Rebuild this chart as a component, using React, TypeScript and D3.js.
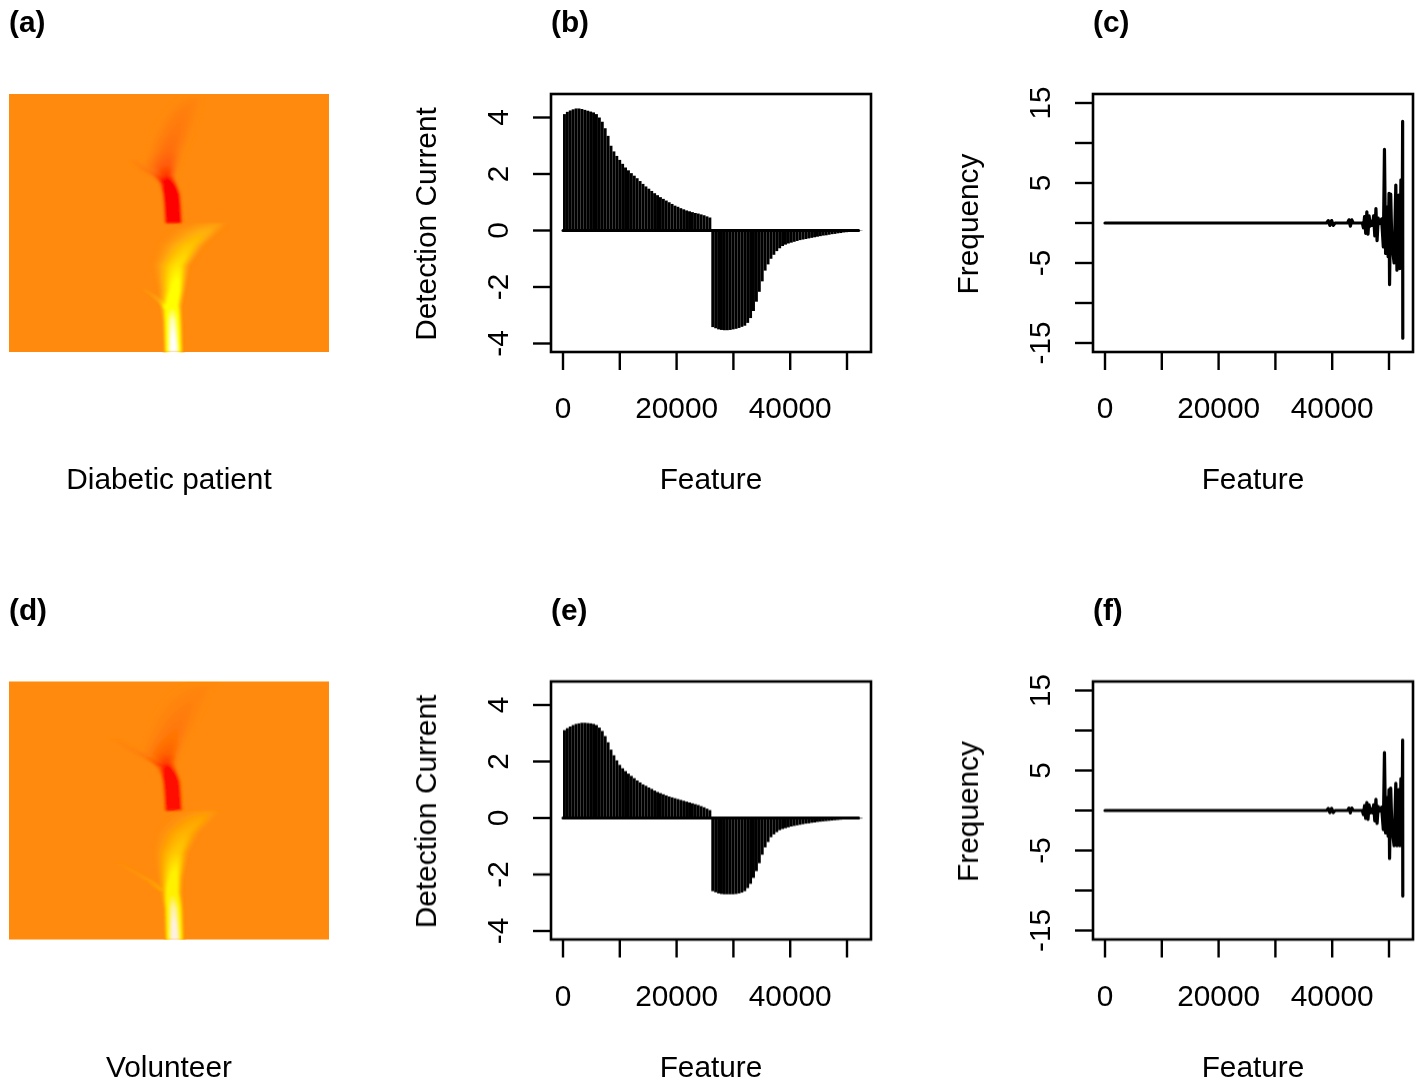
import React, { useEffect, useRef } from "react";
import * as d3 from "d3";

const font = "'Liberation Sans', Arial, sans-serif";
const fontSize = 29.8;

// detection current, one value every 512 features
const binSize = 512;
const lastFeature = 52050;
const currentPatient = [
  4.12, 4.2, 4.25, 4.29, 4.32, 4.32, 4.3, 4.27, 4.24, 4.21, 4.18, 4.12, 4.0, 3.85, 3.62, 3.35, 3.0,
  2.8, 2.64, 2.5, 2.36, 2.23, 2.13, 2.03, 1.94, 1.85, 1.75, 1.65, 1.56, 1.48, 1.4, 1.32, 1.25, 1.18,
  1.12, 1.06, 1.0, 0.94, 0.88, 0.84, 0.79, 0.75, 0.71, 0.68, 0.65, 0.62, 0.6, 0.57, 0.54, 0.5, 0.46,
  -3.42, -3.46, -3.5, -3.52, -3.53, -3.53, -3.52, -3.5, -3.48, -3.45, -3.41, -3.37, -3.27, -3.1,
  -2.85, -2.52, -2.17, -1.8, -1.42, -1.2, -1.0, -0.86, -0.73, -0.63, -0.55, -0.5, -0.46, -0.43, -0.4,
  -0.37, -0.34, -0.32, -0.3, -0.28, -0.26, -0.24, -0.22, -0.2, -0.18, -0.17, -0.15, -0.13, -0.12,
  -0.1, -0.09, -0.07, -0.06, -0.05, -0.04, -0.03, -0.02, -0.01,
];
const currentVolunteer = [
  3.11, 3.18, 3.24, 3.29, 3.33, 3.35, 3.37, 3.37, 3.36, 3.35, 3.33, 3.29, 3.2, 3.08, 2.9, 2.68, 2.42,
  2.22, 2.04, 1.88, 1.76, 1.66, 1.57, 1.49, 1.41, 1.33, 1.26, 1.19, 1.14, 1.08, 1.03, 0.97, 0.92,
  0.88, 0.84, 0.8, 0.76, 0.73, 0.7, 0.67, 0.64, 0.61, 0.58, 0.55, 0.52, 0.49, 0.46, 0.42, 0.38, 0.33, 0.28,
  -2.59, -2.63, -2.67, -2.69, -2.7, -2.7, -2.7, -2.7, -2.69, -2.67, -2.64, -2.59, -2.48, -2.33,
  -2.12, -1.88, -1.6, -1.3, -1.04, -0.85, -0.68, -0.58, -0.5, -0.43, -0.39, -0.36, -0.33, -0.3, -0.28,
  -0.26, -0.24, -0.22, -0.2, -0.19, -0.17, -0.16, -0.14, -0.13, -0.12, -0.11, -0.1, -0.09, -0.08,
  -0.07, -0.06, -0.05, -0.04, -0.04, -0.03, -0.03, -0.02, -0.02,
];

// frequency traces
const freqFeature = [
  0, 39000, 39300, 39600, 39900, 40200, 40500, 42700, 42950, 43200, 43450, 43700, 45300, 45500, 45700,
  45900, 46100, 46300, 46500, 46700, 46900, 47100, 47300, 47500, 47700, 47900, 48100, 48300, 48700,
  49000, 49200, 49400, 49650, 49850, 50000, 50100, 50300, 50500, 50900, 51200, 51400, 51700, 51900,
  52100, 52300, 52400, 52428,
];
const freqPatient = [
  0, 0, 0.3, -0.3, 0.3, -0.3, 0, 0, 0.4, -0.4, 0.4, 0, 0, -0.6, 0.8, -1.3, 1.4, -1.4, 0.9, -0.4, 0.2,
  -0.3, 0.9, -1.6, 1.8, -2.2, 0.6, -0.1, 0.5, -3, 9.2, -3.8, 2, -4.2, 3.7, -7.7, 3.6, -2.5, -5, 4.75,
  -5.9, 3.5, -5.7, 5.4, -5.6, 12.7, -14.4,
];
const freqVolunteer = [
  0, 0, 0.25, -0.25, 0.25, -0.25, 0, 0, 0.3, -0.3, 0.3, 0, 0, -0.5, 0.6, -1.0, 1.0, -1.1, 0.7, -0.3, 0.2,
  -0.3, 0.7, -1.3, 1.4, -1.6, 0.5, -0.1, 0.4, -2.4, 7.25, -2.8, 1.6, -3.2, 2.6, -6, 2.8, -2, -4.4, 3.4,
  -4.4, 2.6, -4.4, 4, -4.2, 8.8, -10.7,
];

const xTicks = [0, 10000, 20000, 30000, 40000, 50000];
const xLabels = [0, 20000, 40000];
const currentTicks = [-4, -2, 0, 2, 4];
const freqTicks = [-15, -10, -5, 0, 5, 10, 15];
const freqLabels = [-15, -5, 5, 15];

// scalogram ridges, read per row: [row, centre, left width, right width, level]
type Ridge = number[][];
const patientUpper: Ridge = [
  [0, 188, 18, 8, 0], [8, 182, 20, 12, -0.05], [19, 174, 22, 18, -0.09], [36, 167, 25, 20, -0.13],
  [56, 160, 25, 18, -0.2], [71, 158, 28, 14, -0.35], [81, 157, 16, 11, -0.6], [86, 158, 12, 11, -1],
  [92, 160, 11, 10.5, -2], [100, 162, 10.5, 10.5, -4], [111, 163, 10.5, 10.5, -4], [129, 164, 10.5, 10.5, -4],
];
const patientUpperWing: Ridge = [
  [66, 124, 7, 7, -0.03], [74, 134, 8, 8, -0.08], [81, 146, 7, 7, -0.18], [88, 153, 5, 5, -0.25],
];
const patientLower: Ridge = [
  [129, 207, 35, 14, 0.14], [136, 198, 40, 16, 0.3], [151, 181, 35, 16, 0.5], [171, 169, 28, 13, 0.75],
  [196, 167, 20, 10, 1.2], [211, 163, 14, 11, 1.6], [226, 163, 11, 11, 2.8], [258, 164, 10.5, 10.5, 3.8],
];
const patientLowerWing: Ridge = [
  [195, 134, 5, 5, 0.06], [201, 144, 5, 5, 0.14], [207, 151, 5, 5, 0.28], [214, 156, 4, 4, 0.4],
];
const volunteerUpper: Ridge = [
  [0, 205, 28, 8, 0], [8, 192, 30, 12, -0.04], [19, 182, 32, 18, -0.07], [36, 172, 32, 20, -0.11],
  [56, 163, 30, 18, -0.18], [71, 159, 30, 14, -0.32], [81, 157, 18, 12, -0.6], [86, 158, 13, 11, -1],
  [92, 160, 11, 10.5, -2], [100, 162, 10.5, 10.5, -4], [111, 163, 10.5, 10.5, -4], [129, 164, 10.5, 10.5, -4],
];
const volunteerUpperWing: Ridge = [
  [58, 106, 8, 8, -0.02], [68, 124, 9, 9, -0.06], [76, 138, 8, 8, -0.14], [84, 150, 6, 6, -0.22],
];
const volunteerLower: Ridge = [
  [129, 200, 32, 14, 0.1], [136, 192, 36, 16, 0.24], [151, 177, 32, 15, 0.4], [171, 168, 26, 13, 0.62],
  [196, 165, 18, 10, 1.15], [211, 163, 13, 11, 1.6], [226, 164, 11, 11, 2.8], [258, 165, 10.5, 10.5, 3.8],
];
const volunteerLowerWing: Ridge = [
  [182, 110, 6, 6, 0.03], [192, 128, 6, 6, 0.1], [200, 142, 5, 5, 0.2], [208, 151, 4, 4, 0.35],
];

const panels = [
  {
    top: 94, letters: ["(a)", "(b)", "(c)"], title: "Diabetic patient", current: currentPatient, freq: freqPatient,
    upper: patientUpper, upperWing: patientUpperWing, lower: patientLower, lowerWing: patientLowerWing,
  },
  {
    top: 681.5, letters: ["(d)", "(e)", "(f)"], title: "Volunteer", current: currentVolunteer, freq: freqVolunteer,
    upper: volunteerUpper, upperWing: volunteerUpperWing, lower: volunteerLower, lowerWing: volunteerLowerWing,
  },
];

const plotW = 320;
const plotH = 258;
const heatColor = d3
  .scaleLinear<string>()
  .domain([-1, 0, 1, 1.7, 3.2])
  .range(["#ff0000", "#ff8a0a", "#ffff00", "#ffff00", "#ffffff"])
  .clamp(true);

function ridgeAt(ridge: Ridge, row: number, col: number) {
  const rows = ridge.map((r) => r[0]);
  if (row < rows[0] || row > rows[rows.length - 1]) return 0;
  const read = (k: number) => d3.scaleLinear().domain(rows).range(ridge.map((r) => r[k]))(row);
  const d = col - read(1);
  const u = Math.abs(d) / (d < 0 ? read(2) : read(3));
  if (u >= 1) return 0;
  return read(4) * Math.cos((u * Math.PI) / 2) ** 2;
}

function drawHeat(g: any, p: any) {
  g.append("rect").attr("width", plotW).attr("height", plotH).attr("fill", heatColor(0));
  const cells: { col: number; row: number; v: number }[] = [];
  d3.range(90, 240).forEach((col) => {
    d3.range(0, plotH).forEach((row) => {
      const v =
        row < 129
          ? ridgeAt(p.upper, row, col) + ridgeAt(p.upperWing, row, col)
          : ridgeAt(p.lower, row, col) + ridgeAt(p.lowerWing, row, col);
      if (v !== 0) cells.push({ col, row, v });
    });
  });
  g.append("g")
    .attr("filter", "url(#soft)")
    .selectAll("rect")
    .data(cells)
    .enter()
    .append("rect")
    .attr("x", (d: any) => d.col)
    .attr("y", (d: any) => d.row)
    .attr("width", 1.2)
    .attr("height", 1.2)
    .attr("fill", (d: any) => heatColor(d.v));
}

function frame(g: any, x: any, y: any, yTicks: number[], yLabels: number[], yTitle: string) {
  g.append("rect")
    .attr("width", plotW)
    .attr("height", plotH)
    .attr("fill", "none")
    .attr("stroke", "#000")
    .attr("stroke-width", 2.6);

  const bottom = g
    .append("g")
    .attr("transform", `translate(0,${plotH})`)
    .call(
      d3.axisBottom(x).tickValues(xTicks).tickSize(18).tickSizeOuter(0).offset(0)
        .tickFormat((d: any) => (xLabels.includes(d) ? String(d) : "")),
    );
  const left = g.append("g").call(
    d3.axisLeft(y).tickValues(yTicks).tickSize(18).tickSizeOuter(0).offset(0)
      .tickFormat((d: any) => (yLabels.includes(d) ? String(d) : "")),
  );
  [bottom, left].forEach((a: any) => {
    a.select(".domain").remove();
    a.attr("font-family", font).attr("font-size", fontSize);
    a.selectAll("line").attr("stroke", "#000").attr("stroke-width", 2.4);
    a.selectAll("text").attr("fill", "#000");
  });
  bottom.selectAll("text").attr("y", 66).attr("dy", 0);
  left
    .selectAll("text")
    .attr("x", 0)
    .attr("y", -43)
    .attr("dy", 0)
    .attr("text-anchor", "middle")
    .attr("transform", "rotate(-90)");

  g.append("text")
    .attr("transform", `translate(-115,${plotH / 2 + 1}) rotate(-90)`)
    .attr("text-anchor", "middle")
    .attr("font-family", font)
    .attr("font-size", fontSize)
    .text(yTitle);
  g.append("text")
    .attr("x", plotW / 2)
    .attr("y", 395)
    .attr("text-anchor", "middle")
    .attr("font-family", font)
    .attr("font-size", fontSize)
    .text("Feature");
}

export default function App() {
  const ref = useRef<SVGSVGElement>(null);

  useEffect(() => {
    const root = d3.select(ref.current);
    root.selectAll("*").remove();
    const defs = root.append("defs");
    defs
      .append("filter")
      .attr("id", "soft")
      .attr("x", 0)
      .attr("y", 0)
      .attr("width", 1)
      .attr("height", 1)
      .append("feGaussianBlur")
      .attr("stdDeviation", 0.8);
    // the original is a slightly soft raster
    defs
      .append("filter")
      .attr("id", "page")
      .attr("filterUnits", "userSpaceOnUse")
      .attr("x", 0)
      .attr("y", 0)
      .attr("width", 1419)
      .attr("height", 1078)
      .append("feGaussianBlur")
      .attr("stdDeviation", 0.4);
    const svg = root.append("g").attr("filter", "url(#page)");

    const x = d3.scaleLinear().domain([0, 50000]).range([12, 296]);
    const yCurrent = d3.scaleLinear().domain([-4, 4]).range([249.5, 23.5]);
    const yFreq = d3.scaleLinear().domain([-15, 15]).range([249, 9]);

    panels.forEach((p) => {
      // panel letters
      [9, 551, 1093].forEach((lx, i) => {
        svg
          .append("text")
          .attr("x", lx)
          .attr("y", p.top - 62)
          .attr("font-family", font)
          .attr("font-size", fontSize)
          .attr("font-weight", "bold")
          .text(p.letters[i]);
      });

      // scalogram
      const heat = svg.append("g").attr("transform", `translate(9,${p.top})`);
      drawHeat(heat, p);
      heat
        .append("text")
        .attr("x", plotW / 2)
        .attr("y", 395)
        .attr("text-anchor", "middle")
        .attr("font-family", font)
        .attr("font-size", fontSize)
        .text(p.title);

      // detection current
      const mid = svg.append("g").attr("transform", `translate(551,${p.top})`);
      const step = x(binSize) - x(0);
      mid
        .append("g")
        .selectAll("line")
        .data(p.current)
        .enter()
        .append("line")
        .attr("x1", (_: number, i: number) => x(i * binSize) + step / 2)
        .attr("x2", (_: number, i: number) => x(i * binSize) + step / 2)
        .attr("y1", yCurrent(0))
        .attr("y2", (d: number) => yCurrent(d))
        .attr("stroke", "#000")
        .attr("stroke-width", 2.95);
      mid
        .append("line")
        .attr("x1", x(0))
        .attr("x2", x(lastFeature))
        .attr("y1", yCurrent(0))
        .attr("y2", yCurrent(0))
        .attr("stroke", "#000")
        .attr("stroke-width", 3)
        .attr("stroke-linecap", "round");
      frame(mid, x, yCurrent, currentTicks, currentTicks, "Detection Current");

      // frequency
      const right = svg.append("g").attr("transform", `translate(1093,${p.top})`);
      const line = d3
        .line<number>()
        .x((_, i) => x(freqFeature[i]))
        .y((d) => yFreq(d));
      right
        .append("path")
        .attr("d", line(p.freq))
        .attr("fill", "none")
        .attr("stroke", "#000")
        .attr("stroke-width", 3.2)
        .attr("stroke-linejoin", "round")
        .attr("stroke-linecap", "round");
      frame(right, x, yFreq, freqTicks, freqLabels, "Frequency");
    });
  }, []);

  return (
    <svg
      ref={ref}
      width={1419}
      height={1078}
      style={{ position: "absolute", left: 0, top: 0, display: "block", background: "#fff" }}
    />
  );
}
